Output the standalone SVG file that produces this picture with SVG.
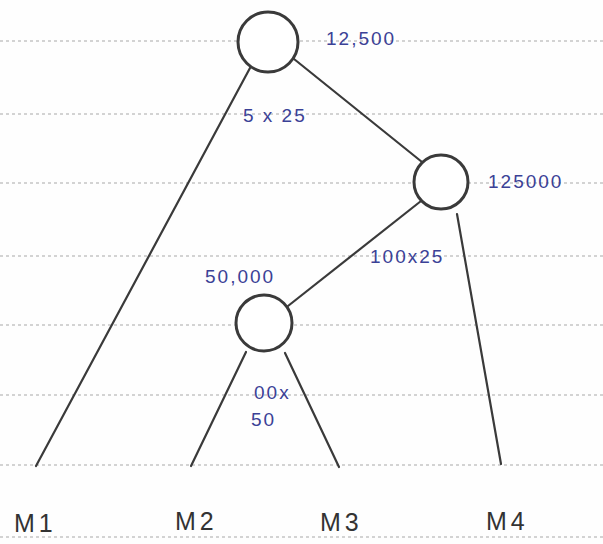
<svg xmlns="http://www.w3.org/2000/svg" width="603" height="544" viewBox="0 0 603 544">
<style>
.rule{stroke:#a8a8a8;stroke-width:1;stroke-dasharray:3 3}
.edge{stroke:#3a3a3a;stroke-width:2.2;fill:none;stroke-linecap:round}
.node{fill:#fff;stroke:#3a3a3a;stroke-width:3}
.val{font-family:"Liberation Sans",Arial,sans-serif;font-size:19px;letter-spacing:2px;fill:#3b4196}
.leaf{font-family:"Liberation Sans",Arial,sans-serif;font-size:25px;letter-spacing:4px;fill:#333}
</style>
<rect width="603" height="544" fill="#fefefe"/>
<g id="rules">
<line class="rule" x1="0" y1="41" x2="603" y2="41"/>
<line class="rule" x1="0" y1="114" x2="603" y2="114"/>
<line class="rule" x1="0" y1="183" x2="603" y2="183"/>
<line class="rule" x1="0" y1="256" x2="603" y2="256"/>
<line class="rule" x1="0" y1="325" x2="603" y2="325"/>
<line class="rule" x1="0" y1="395" x2="603" y2="395"/>
<line class="rule" x1="0" y1="465" x2="603" y2="465"/>
<line class="rule" x1="0" y1="537" x2="603" y2="537"/>
</g>
<g id="connectors">
<line class="edge" x1="250" y1="68" x2="36" y2="466"/>
<line class="edge" x1="294" y1="59" x2="422" y2="162"/>
<line class="edge" x1="421" y1="201" x2="288" y2="306"/>
<line class="edge" x1="457" y1="214" x2="501" y2="464"/>
<line class="edge" x1="246" y1="352" x2="191" y2="466"/>
<line class="edge" x1="285" y1="353" x2="339" y2="467"/>
</g>
<g id="n-root"><circle class="node" cx="268" cy="42" r="30"/><text class="val" x="326" y="45">12,500</text></g>
<g id="n-mid"><circle class="node" cx="441" cy="182" r="27"/><text class="val" x="488" y="188">125000</text></g>
<g id="n-low"><circle class="node" cx="264" cy="323" r="28"/><text class="val" x="205" y="283">50,000</text></g>
<g id="labels">
<text class="val" x="243" y="122">5 x 25</text>
<text class="val" x="370" y="263" letter-spacing="1">100x25</text>
<text class="val" x="254" y="399" font-size="14" letter-spacing="0">00x</text>
<text class="val" x="251" y="426">50</text>
</g>
<g id="leaf-m1"><text class="leaf" x="14" y="532">M1</text></g>
<g id="leaf-m2"><text class="leaf" x="175" y="530">M2</text></g>
<g id="leaf-m3"><text class="leaf" x="320" y="531">M3</text></g>
<g id="leaf-m4"><text class="leaf" x="486" y="530">M4</text></g>
</svg>
